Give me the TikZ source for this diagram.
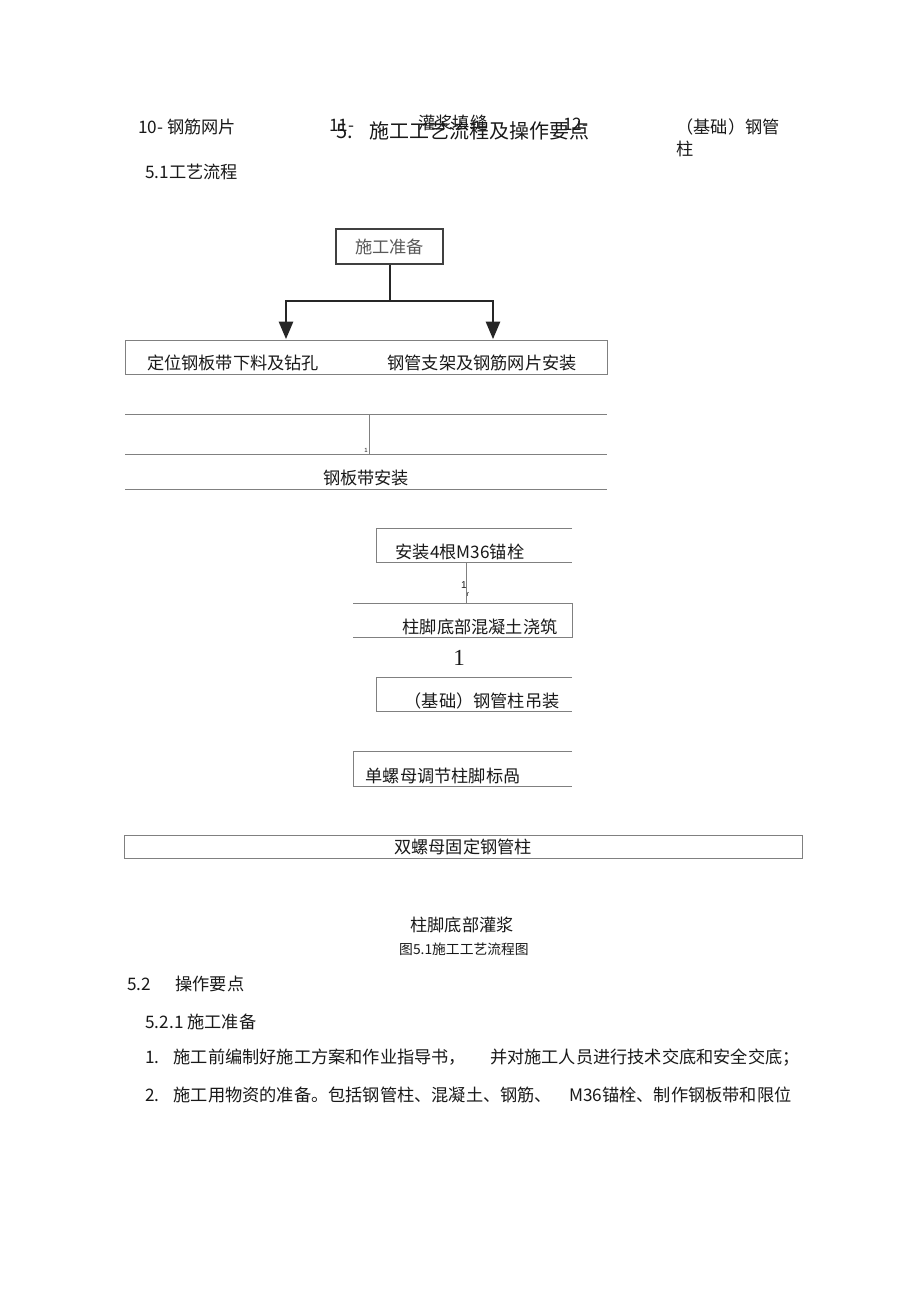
\documentclass[tikz,border=0pt]{standalone}
\usepackage{fontspec}
\setmainfont{Liberation Sans}
\newfontfamily\cjk{Noto Sans CJK SC}
\newfontfamily\serifnum{Liberation Serif}
\usetikzlibrary{positioning,arrows,calc}

\begin{document}
\begin{tikzpicture}[x=0.5pt,y=-0.5pt]
  \tikzstyle{txt}=[font=\cjk\fontsize{8.6}{10}\selectfont,inner sep=0pt,text=black!90]
  \tikzstyle{lt}=[txt,anchor=west]
  \tikzstyle{big}=[lt,font=\cjk\fontsize{10}{12}\selectfont]
  \tikzstyle{frame}=[draw=black!50,line width=.5pt]
  \tikzstyle{flow}=[draw=black!85,line width=1pt]
  \useasboundingbox[fill=white] (0,0) rectangle (920,1303);
  % header line
  \node [lt] (h10) at (138,127) {10- 钢筋网片};
  \node [lt] (h11) at (329,125) {11-};
  \node [lt] (h11t) at (418,123) {灌浆填缝};
  \node [lt] (h12) at (563,124) {12-};
  \node [lt] (h12t) at (676,127) {（基础）钢管};
  \node [lt] (h12b) at (676,149) {柱};
  \node [big] (secno) at (336,131) {5.};
  \node [big] (sec) at (369,131) {施工工艺流程及操作要点};
  \node [lt] (sub) at (145,172) {5.1工艺流程};
  % flow chart
  \node [txt,draw=black!75,line width=.75pt,text=black!65,
         minimum width=53.5pt,minimum height=17.5pt] (prep) at (389.5,246.5) {施工准备};
  \coordinate (split) at (prep.south |- 0,301);
  \coordinate (la) at (286,339);
  \coordinate (ra) at (493,339);
  \draw [frame] (125,340) rectangle (607,374);
  \node [txt] (cut) at (233,363) {定位钢板带下料及钻孔};
  \node [txt] (tube) at (482,363) {钢管支架及钢筋网片安装};
  \draw [flow] (prep.south) -- (split);
  \draw [flow,-triangle 45] (split) -| (la);
  \draw [flow,-triangle 45] (split) -| (ra);
  \draw [frame] (125,414) -- (607,414);
  \draw [frame] (125,454) -- (607,454);
  \draw [frame] (125,489) -- (607,489);
  \draw [frame] (369,414) -- (369,454);
  \node [txt,font=\fontsize{3}{3}\selectfont] (tick) at (366,450) {1};
  \node [txt] (belt) at (366,478) {钢板带安装};
  % anchor bolts
  \draw [frame] (572,528) -- (376,528) -- (376,562) -- (572,562);
  \node [txt] (bolt) at (460,552) {安装4根M36锚栓};
  \draw [frame] (466,562) -- (466,603);
  \node [txt,font=\fontsize{5}{5}\selectfont] (t1) at (464,585) {1};
  \node [txt,font=\fontsize{3.5}{4}\selectfont] (t2) at (468,595) {r};
  \draw [frame] (353,603) -- (572,603) -- (572,637) -- (353,637);
  \node [txt] (pour) at (480,627) {柱脚底部混凝土浇筑};
  \node [txt,font=\serifnum\fontsize{11.5}{12}\selectfont] (one) at (459,658) {1};
  \draw [frame] (572,677) -- (376,677) -- (376,711) -- (572,711);
  \node [txt] (lift) at (482,701) {（基础）钢管柱吊装};
  \draw [frame] (572,751) -- (353,751) -- (353,786) -- (572,786);
  \node [txt] (nut) at (443,776) {单螺母调节柱脚标咼};
  \draw [frame] (124,835) rectangle (802,858);
  \node [txt] (fix) at (463,847) {双螺母固定钢管柱};
  \node [txt] (grout) at (462,925) {柱脚底部灌浆};
  \node [txt,font=\cjk\fontsize{6.9}{8}\selectfont] (cap) at (464,949) {图5.1施工工艺流程图};
  % text below
  \node [lt] (s52) at (127,984) {5.2};
  \node [lt] (s52t) at (175,984) {操作要点};
  \node [lt] (s521) at (145,1022) {5.2.1 施工准备};
  \node [lt] (p1) at (145,1058) {1.\hspace{7pt}施工前编制好施工方案和作业指导书，\hspace{12pt}并对施工人员进行技术交底和安全交底；};
  \node [lt] (p2) at (145,1095) {2.\hspace{7pt}施工用物资的准备。包括钢管柱、混凝土、钢筋、\quad M36锚栓、制作钢板带和限位};
\end{tikzpicture}
\end{document}
